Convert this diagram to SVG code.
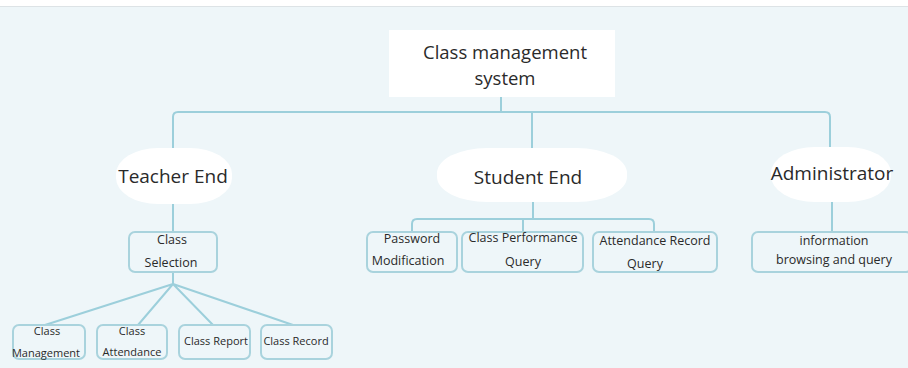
<svg xmlns="http://www.w3.org/2000/svg" width="908" height="368" viewBox="0 0 908 368">
<style>
text{font-family:"Open Sans","Noto Sans","DejaVu Sans",sans-serif;fill:#2a2a2a;text-anchor:middle}
.big{font-size:18.5px}
.lab{font-size:19px}
.mid{font-size:12.5px}
.sm{font-size:11px}
.box{fill:none;stroke:#a9d3dd;stroke-width:2}
.blob{fill:#fff}
.con{fill:none;stroke:#9ccfdb;stroke-width:2}
</style>
<rect x="0" y="0" width="908" height="368" fill="#fff"/>
<rect x="0" y="6" width="908" height="362" fill="#eef6f9"/>
<line x1="0" y1="6.5" x2="908" y2="6.5" stroke="#dde3e6" stroke-width="1"/>
<g id="connectors" class="con">
<path d="M501,97 V112"/>
<path d="M173,150 V117 Q173,112 178,112 H825 Q830,112 830,117 V150"/>
<path d="M532,112 V150"/>
<path d="M173,204 V232"/>
<path d="M173,272 V284 M173,284 L45,325 M173,284 L138,325 M173,284 L213,325 M173,284 L293,325"/>
<path d="M533,202 V219"/>
<path d="M412,232 V224 Q412,219 417,219 H649 Q654,219 654,224 V232"/>
<path d="M523,219 V232"/>
<path d="M832,202 V232"/>
</g>
<g id="root">
<rect x="389" y="30" width="226" height="67" fill="#fff"/>
<text class="big" x="505" y="59">Class management</text>
<text class="big" x="505" y="85">system</text>
</g>
<g id="teacher">
<rect class="blob" x="116" y="148" width="116" height="56" rx="42" ry="26"/>
<text class="lab" x="173" y="183">Teacher End</text>
</g>
<g id="student">
<rect class="blob" x="437" y="148" width="190" height="54" rx="50" ry="25"/>
<text class="lab" x="528" y="184">Student End</text>
</g>
<g id="admin">
<rect class="blob" x="771" y="147" width="120" height="55" rx="44" ry="26"/>
<text class="lab" x="832" y="180">Administrator</text>
</g>
<g id="class-selection">
<rect class="box" x="129" y="232" width="88" height="40" rx="6"/>
<text class="mid" x="172" y="244">Class</text>
<text class="mid" x="171" y="267">Selection</text>
</g>
<g id="class-management">
<rect class="box" x="13" y="325" width="72" height="34" rx="6"/>
<text class="sm" x="47" y="335">Class</text>
<text class="sm" x="46" y="357">Management</text>
</g>
<g id="class-attendance">
<rect class="box" x="97" y="325" width="70" height="34" rx="6"/>
<text class="sm" x="132" y="335">Class</text>
<text class="sm" x="132" y="356">Attendance</text>
</g>
<g id="class-report">
<rect class="box" x="179" y="325" width="71" height="34" rx="6"/>
<text class="sm" x="216" y="345">Class Report</text>
</g>
<g id="class-record">
<rect class="box" x="261" y="325" width="71" height="34" rx="6"/>
<text class="sm" x="296" y="345">Class Record</text>
</g>
<g id="password">
<rect class="box" x="367" y="232" width="90" height="40" rx="6"/>
<text class="mid" x="412" y="243">Password</text>
<text class="mid" x="408" y="265">Modification</text>
</g>
<g id="performance">
<rect class="box" x="462" y="232" width="121" height="40" rx="6"/>
<text class="mid" x="523" y="242">Class Performance</text>
<text class="mid" x="523" y="266">Query</text>
</g>
<g id="attendance-record">
<rect class="box" x="593" y="232" width="124" height="40" rx="6"/>
<text class="mid" x="655" y="245">Attendance Record</text>
<text class="mid" x="645" y="268">Query</text>
</g>
<g id="info">
<rect class="box" x="752" y="232" width="160" height="40" rx="6"/>
<text class="mid" x="834" y="245">information</text>
<text class="mid" x="834" y="264">browsing and query</text>
</g>
</svg>
